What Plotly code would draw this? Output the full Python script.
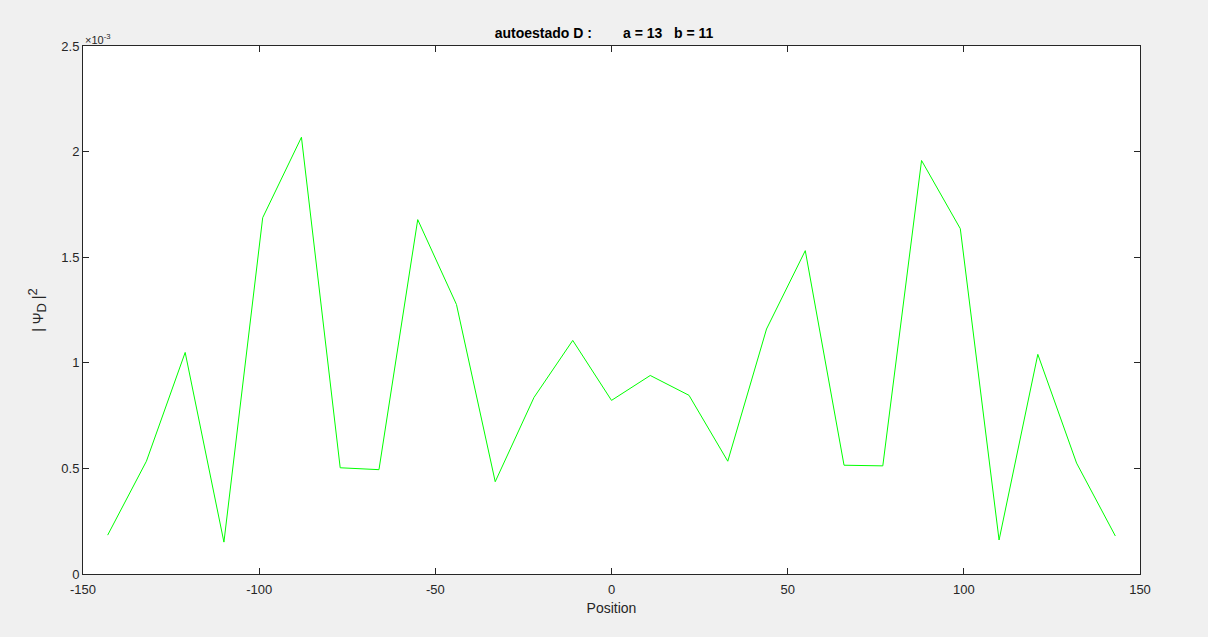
import plotly.graph_objects as go

positions = [-143, -132, -121, -110, -99, -88, -77, -66, -55, -44, -33, -22, -11, 0,
             11, 22, 33, 44, 55, 66, 77, 88, 99, 110, 121, 132, 143]
psi_sq = [0.184e-3, 0.534e-3, 1.049e-3, 0.151e-3, 1.687e-3, 2.068e-3, 0.503e-3, 0.494e-3,
          1.678e-3, 1.276e-3, 0.437e-3, 0.836e-3, 1.106e-3, 0.822e-3, 0.940e-3, 0.846e-3,
          0.534e-3, 1.160e-3, 1.531e-3, 0.515e-3, 0.512e-3, 1.958e-3, 1.635e-3, 0.161e-3,
          1.040e-3, 0.525e-3, 0.180e-3]

ytick_vals = [0, 0.5e-3, 1e-3, 1.5e-3, 2e-3, 2.5e-3]
ytick_text = ["0", "0.5", "1", "1.5", "2", "2.5"]
xtick_vals = [-150, -100, -50, 0, 50, 100, 150]
xtick_text = ["-150", "-100", "-50", "0", "50", "100", "150"]

fig = go.Figure()
fig.add_trace(go.Scatter(x=positions, y=psi_sq, mode="lines",
                         line=dict(color="#00ff00", width=1), showlegend=False))

axis_common = dict(showgrid=False, zeroline=False, showline=True, linecolor="#262626",
                   linewidth=1, mirror="ticks", ticks="inside", ticklen=6, tickcolor="#262626",
                   tickfont=dict(family="Liberation Sans, Arial", size=13, color="#262626"))

fig.update_layout(
    width=1208, height=637,
    paper_bgcolor="#f0f0f0", plot_bgcolor="#ffffff",
    margin=dict(l=83, r=68, t=46, b=63),
    title=dict(text="<b>autoestado D :\u00a0\u00a0\u00a0\u00a0\u00a0\u00a0\u00a0\u00a0a = 13\u00a0\u00a0\u00a0b = 11</b>",
               x=0.5, xanchor="center", y=1 - 33 / 637, yanchor="middle",
               font=dict(family="Liberation Sans, Arial", size=14, color="#000000")),
    xaxis=dict(range=[-150, 150], tickvals=xtick_vals, ticktext=xtick_text,
               ticklabelstandoff=3,
               title=dict(text="Position", standoff=7,
                          font=dict(family="Liberation Sans, Arial", size=14, color="#262626")),
               **axis_common),
    yaxis=dict(range=[0, 2.5e-3], tickvals=ytick_vals, ticktext=ytick_text,
               title=dict(text="| \u03a8<sub><span style='font-size:13px'>D</span></sub> |<sup><span style='font-size:13px'>2</span></sup>",
                          standoff=14,
                          font=dict(family="Liberation Sans, Arial", size=14, color="#262626")),
               **axis_common),
    annotations=[dict(text="\u00d710<sup>-3</sup>", xref="paper", yref="paper", x=0, y=1,
                      xanchor="left", yanchor="bottom", showarrow=False, yshift=-2,
                      font=dict(family="Liberation Sans, Arial", size=11, color="#262626"))],
)

fig.write_html("out.html", config={"displayModeBar": False},
               post_script="document.body.style.margin='0';")
